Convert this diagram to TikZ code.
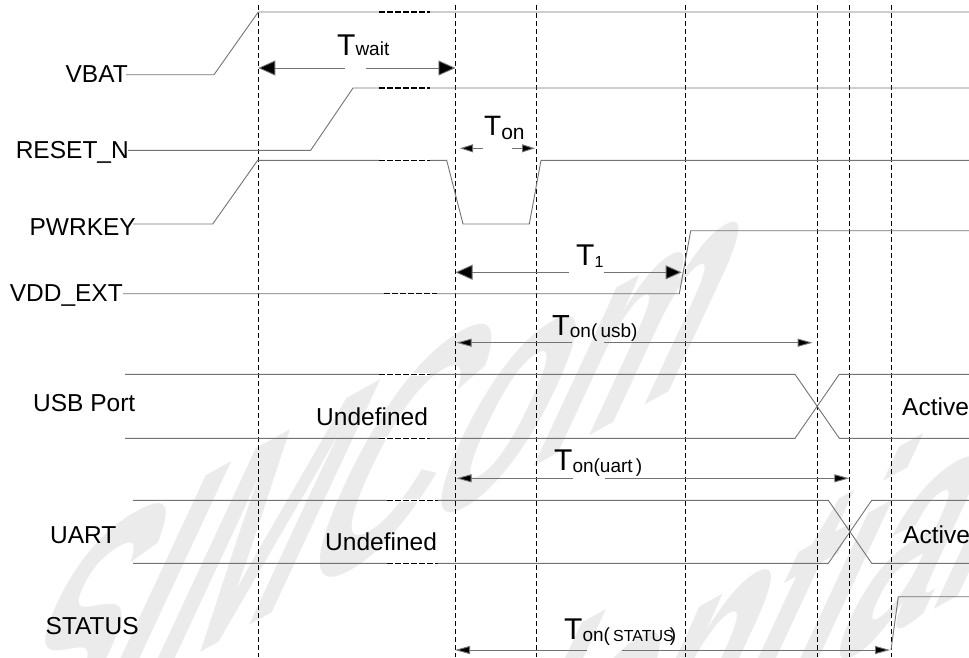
\documentclass[tikz,border=0pt]{standalone}
\usepackage{fontspec}
\setmainfont{Liberation Sans}
\usetikzlibrary{arrows.meta}

\newcommand\fsz[1]{\fontsize{#1}{#1}\selectfont}

\begin{document}
\begin{tikzpicture}[x=1pt,y=-1pt,
  sig/.style={draw=black!55, line width=0.9pt},
  tmark/.style={draw=black, line width=0.9pt, dash pattern=on 5pt off 3pt},
  brk/.style={draw=black, line width=1.2pt, dash pattern=on 5.5pt off 2.5pt},
  gapfill/.style={draw=white, line width=2.5pt},
  dim/.style={draw=black!55, line width=0.9pt},
  bighead/.style={-{Triangle[length=17pt,width=15pt,fill=black]}},
  smallhead/.style={-{Triangle[length=15pt,width=8pt,fill=black]}},
  lbl/.style={inner sep=0pt, font=\fsz{24.5}},
  wm/.style={inner sep=0pt, text=black!8, font=\fsz{170}\bfseries,
    cm={1.05,0.582,0.930,1.994,(0,0)}},
]
\useasboundingbox (0,0) rectangle (969,657);
\clip (0,0) rectangle (969,657);

% background watermark
\node[wm] (wm1) at (378,467) {SIMCom};
\node[wm] (wm2) at (512,754) {Confidential};

% time markers
\foreach \n/\x in {ta/258.3, tb/455.5, tc/536, td/685.3, te/817.3, tf/849.3, tg/891} {
  \coordinate (\n) at (\x,0);
  \draw[tmark] (\x,5) -- (\x,657);
}

% signal names
\node[lbl, anchor=base east] (nvbat) at (128,82) {VBAT};
\node[lbl, anchor=base east] (nrst)  at (129,158) {RESET\_N};
\node[lbl, anchor=base east] (npwr)  at (136,235) {PWRKEY};
\node[lbl, anchor=base east] (nvdd)  at (123,301.5) {VDD\_EXT};
\node[lbl, anchor=base west] (nusb)  at (33,411.5) {USB Port};
\node[lbl, anchor=base west] (nuart) at (50,543) {UART};
\node[lbl, anchor=base west] (nstat) at (45.5,634) {STATUS};

% waveforms
\draw[sig] (126,74.7) -- (214,74.7) -- (258.3,12) -- (969,12);
\draw[sig] (128,150.3) -- (310.7,150.3) -- (353,88) -- (969,88);
\draw[sig] (133,224) -- (212.7,224) -- (257.7,160.3) -- (446.7,160.3)
  -- (463,224) -- (529.3,224) -- (541,160.3) -- (969,160.3);
\draw[sig] (123,293.7) -- (679.3,293.7) -- (690.7,230.7) -- (969,230.7);
\draw[sig] (125,374.3) -- (795,374.3) -- (839.3,438.3) -- (969,438.3);
\draw[sig] (125,438.3) -- (795,438.3) -- (839.3,374.3) -- (969,374.3);
\draw[sig] (133,500.3) -- (828.3,500.3) -- (871.7,563.3) -- (969,563.3);
\draw[sig] (133,563.3) -- (828.3,563.3) -- (871.7,500.3) -- (969,500.3);
\draw[sig] (891,650) -- (898.3,596.7) -- (969,596.7);

% broken-time marks on the waveforms
\foreach \y in {12, 88, 160.3, 374.3, 438.3} {
  \draw[gapfill] (379,\y) -- (430,\y);
  \draw[brk] (379,\y) -- (430,\y);
}
\foreach \a/\b/\y in {384/437/293.7, 387/438/500.3, 387/438/563.3} {
  \draw[gapfill] (\a,\y) -- (\b,\y);
  \draw[brk] (\a,\y) -- (\b,\y);
}

% bus states
\node[lbl, anchor=base west] (undef1) at (316,425) {Undefined};
\node[lbl, anchor=base west] (undef2) at (325,550.5) {Undefined};
\node[lbl, anchor=base west] (act1) at (902,415) {Active};
\node[lbl, anchor=base west] (act2) at (903,543) {Active};

% timing intervals
\coordinate (w1) at (345,68);   \coordinate (w2) at (366,68);
\draw[dim, bighead] (w1) -- (ta |- w1);
\draw[dim, bighead] (w2) -- (tb |- w2);
\node[inner sep=0pt, anchor=base west] (lwait) at (337,55)
  {\fsz{30}T\fsz{19}wait};

\coordinate (o1) at (483,148.3); \coordinate (o2) at (511.7,148.3);
\draw[dim, -{Triangle[length=13pt,width=8pt,fill=black]}] (o1) -- (460,148.3);
\draw[dim, -{Triangle[length=13pt,width=8pt,fill=black]}] (o2) -- (535,148.3);
\node[inner sep=0pt, anchor=base west] (lon) at (484,135)
  {\fsz{28}T\raisebox{-4.5pt}{\fsz{21}on}};

\coordinate (a1) at (569,272.3); \coordinate (a2) at (604,272.3);
\draw[dim, bighead] (a1) -- (tb |- a1);
\draw[dim, -{Triangle[length=16pt,width=14pt,fill=black]}] (a2) -- (681.7,272.3);
\node[inner sep=0pt, anchor=base west] (lt1) at (576,265)
  {\fsz{30}T\raisebox{-2.5pt}{\fsz{16}1}};

\coordinate (u1) at (571.7,342.7); \coordinate (u2) at (604,342.7);
\draw[dim, smallhead] (u1) -- (456.5,342.7);
\draw[dim, smallhead] (u2) -- (812.7,342.7);
\node[inner sep=0pt, anchor=base west] (lusb) at (552,335)
  {\fsz{29}T\raisebox{-2pt}{\fsz{19}on(\,usb)}};

\coordinate (r1) at (572.7,478.3); \coordinate (r2) at (605,478.3);
\draw[dim, smallhead] (r1) -- (456.5,478.3);
\draw[dim, smallhead] (r2) -- (849.3,478.3);
\node[inner sep=0pt, anchor=base west] (luart) at (554,470)
  {\fsz{30}T\raisebox{-2pt}{\fsz{19}on(uart\,)}};

\coordinate (s1) at (586.7,650); \coordinate (s2) at (621.7,650);
\draw[dim, smallhead] (s1) -- (455,650);
\draw[dim, smallhead] (s2) -- (890,650);
\node[inner sep=0pt, anchor=base west] (lstat) at (564,639)
  {\fsz{30}T\raisebox{-2pt}{\fsz{19}on(\,\fsz{16}STATUS\kern-4pt\fsz{19})}};
\end{tikzpicture}
\end{document}
